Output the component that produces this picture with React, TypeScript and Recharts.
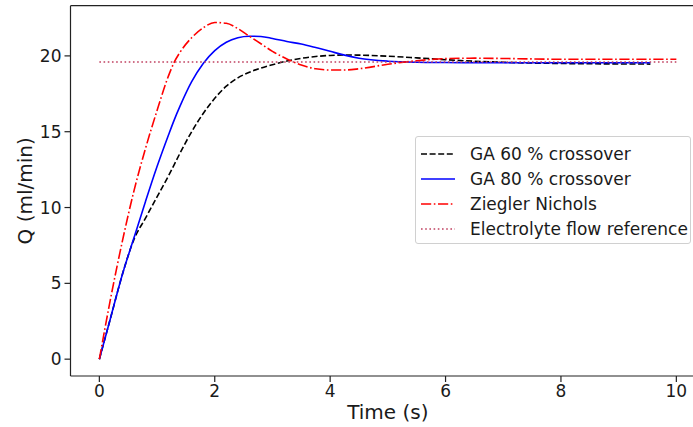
import React from 'react';
import { LineChart, Line, XAxis, YAxis, ReferenceLine, Legend } from 'recharts';

const time = [0, 0.2, 0.4, 0.6, 0.8, 1.0, 1.2, 1.3, 1.4, 1.6, 1.8, 2.0, 2.2, 2.4, 2.6, 2.8, 3.0, 3.25, 3.5, 3.75, 4.0, 4.25, 4.5, 5, 5.5, 6, 6.5, 7, 7.5, 8, 8.5, 9, 9.55, 10];
const ga60 = [0, 2.8, 5.6, 7.9, 9.3, 10.7, 12.1, 12.85, 13.6, 15.0, 16.2, 17.2, 18.0, 18.55, 18.92, 19.2, 19.42, 19.66, 19.84, 19.96, 20.03, 20.06, 20.05, 19.98, 19.87, 19.75, 19.65, 19.58, 19.53, 19.5, 19.48, 19.47, 19.46, null];
const ga80 = [0, 2.8, 5.6, 8.0, 10.4, 12.7, 14.8, 15.8, 16.7, 18.3, 19.5, 20.35, 20.9, 21.2, 21.3, 21.28, 21.15, 20.95, 20.78, 20.55, 20.3, 20.05, 19.85, 19.65, 19.58, 19.56, 19.55, 19.55, 19.55, 19.55, 19.55, 19.55, 19.55, null];
const zieglerNichols = [0, 4.1, 7.8, 11.1, 13.9, 16.4, 18.7, 19.6, 20.25, 21.2, 21.85, 22.2, 22.15, 21.8, 21.3, 20.8, 20.3, 19.8, 19.4, 19.15, 19.07, 19.07, 19.15, 19.45, 19.68, 19.82, 19.85, 19.83, 19.8, 19.78, 19.78, 19.78, 19.78, 19.78];
const refTime = [0, 10];
const refFlow = [19.6, 19.6];

const xTicks = [0, 2, 4, 6, 8, 10];
const yTicks = [0, 5, 10, 15, 20];
const xDomain = [-0.5, 10.5];
const yDomain = [-1.11, 23.31];

const data = time.map((t, i) => ({ t, ga60: ga60[i], ga80: ga80[i], zn: zieglerNichols[i] }));
const refData = refTime.map((t, i) => ({ t, ref: refFlow[i] }));

const FONT = 'DejaVu Sans';
const TEXT = '#1a1a1a';

const series = [
  { name: 'GA 60 % crossover', color: '#000000', dash: '6 2.6' },
  { name: 'GA 80 % crossover', color: '#0000ff', dash: undefined },
  { name: 'Ziegler Nichols', color: '#ff0000', dash: '10.2 2.6 1.6 2.6' },
  { name: 'Electrolyte flow reference', color: '#c04060', dash: '1.6 2.6' },
];

const LegendBox = () => (
  <div
    style={{
      width: 276,
      height: 108,
      boxSizing: 'border-box',
      border: '1px solid #d0d0d0',
      borderRadius: 3,
      background: 'rgba(255,255,255,0.85)',
      paddingTop: 4,
    }}
  >
    {series.map((s) => (
      <div key={s.name} style={{ display: 'flex', alignItems: 'center', height: 25 }}>
        <svg width={54} height={10} style={{ flex: 'none' }}>
          <line x1={5} x2={39} y1={5} y2={5} stroke={s.color} strokeWidth={1.6} strokeDasharray={s.dash} />
        </svg>
        <span style={{ fontFamily: FONT, fontSize: 17, color: TEXT, whiteSpace: 'nowrap' }}>{s.name}</span>
      </div>
    ))}
  </div>
);

const YLabel = (props: any) => {
  const vb = props.viewBox || {};
  const cx = (vb.x || 0) + 25;
  const cy = (vb.y || 0) + (vb.height || 0) / 2;
  return (
    <text x={cx} y={cy} transform={`rotate(-90, ${cx}, ${cy})`} textAnchor="middle" dominantBaseline="central" fontFamily={FONT} fontSize={20} fill={TEXT}>
      Q (ml/min)
    </text>
  );
};

const XLabel = (props: any) => {
  const vb = props.viewBox || {};
  const cx = (vb.x || 0) + (vb.width || 0) / 2;
  const cy = (vb.y || 0) + 36;
  return (
    <text x={cx} y={cy} textAnchor="middle" dominantBaseline="central" fontFamily={FONT} fontSize={20} fill={TEXT}>
      Time (s)
    </text>
  );
};

export default function App() {
  return (
    <div style={{ position: 'absolute', left: 0, top: 0, width: 693, height: 427, overflow: 'hidden', background: '#fff' }}>
      <LineChart width={720} height={427} data={data} margin={{ top: 5.7, right: 14.8, left: 0, bottom: 21 }}>
        <XAxis
          dataKey="t"
          type="number"
          domain={xDomain}
          ticks={xTicks}
          allowDataOverflow
          height={30}
          tickSize={6}
          tickMargin={3}
          axisLine={{ stroke: '#222', strokeWidth: 1.2 }}
          tickLine={{ stroke: '#222', strokeWidth: 1.2 }}
          tick={{ fontFamily: FONT, fontSize: 17, fill: TEXT }}
          label={<XLabel />}
        />
        <YAxis
          type="number"
          domain={yDomain}
          ticks={yTicks}
          allowDataOverflow
          width={70.5}
          tickSize={6}
          tickMargin={3}
          axisLine={{ stroke: '#222', strokeWidth: 1.2 }}
          tickLine={{ stroke: '#222', strokeWidth: 1.2 }}
          tick={{ fontFamily: FONT, fontSize: 17, fill: TEXT }}
          label={<YLabel />}
        />
        <ReferenceLine y={yDomain[1]} stroke="#222" strokeWidth={1.2} />
        <ReferenceLine x={xDomain[1]} stroke="#222" strokeWidth={1.2} />
        <Line dataKey="ga60" name={series[0].name} stroke={series[0].color} strokeWidth={1.6} strokeDasharray={series[0].dash} dot={false} type="monotone" isAnimationActive={false} />
        <Line dataKey="ga80" name={series[1].name} stroke={series[1].color} strokeWidth={1.6} dot={false} type="monotone" isAnimationActive={false} />
        <Line dataKey="zn" name={series[2].name} stroke={series[2].color} strokeWidth={1.6} strokeDasharray={series[2].dash} dot={false} type="monotone" isAnimationActive={false} />
        <Line data={refData} dataKey="ref" name={series[3].name} stroke={series[3].color} strokeWidth={1.6} strokeDasharray={series[3].dash} dot={false} type="linear" isAnimationActive={false} />
        <Legend
          layout="vertical"
          align="center"
          verticalAlign="middle"
          content={() => <LegendBox />}
          wrapperStyle={{ position: 'absolute', left: 415, top: 136, width: 276, height: 108 }}
        />
      </LineChart>
    </div>
  );
}
